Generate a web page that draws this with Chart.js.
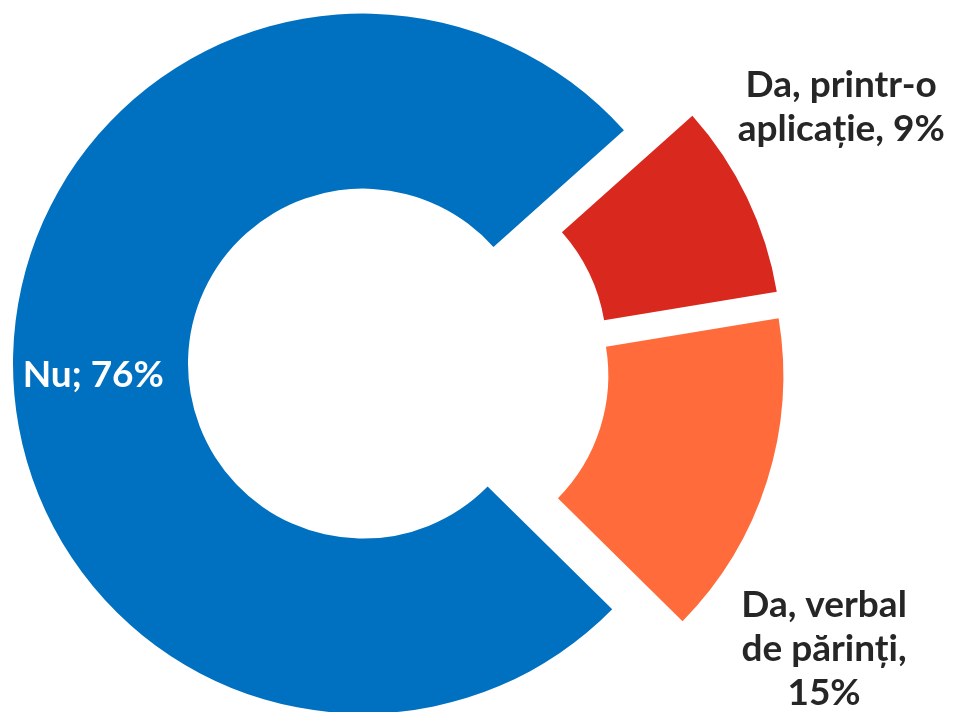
<!DOCTYPE html>
<html>
<head>
<meta charset="utf-8">
<script src="https://cdn.jsdelivr.net/npm/chart.js@4.4.1/dist/chart.umd.min.js"></script>
<style>
  html, body { margin: 0; padding: 0; background: #fff; overflow: hidden; }
  #wrap { position: relative; width: 954px; height: 729px; }
</style>
</head>
<body>
<div id="wrap"><canvas id="pieChart"></canvas></div>
<script>
var categories = ["Da, printr-o aplicație", "Da, verbal de părinți", "Nu"];
var values = [9, 15, 76];
var separators = [", ", ", ", "; "];
var sliceColors = ["#D9291E", "#FF6B3A", "#0070C0"];

// pull every slice away from the centre, like an exploded pie
var explodePlugin = {
    id: 'explode',
    afterDatasetsUpdate: function(chart, args, opts) {
        chart.getDatasetMeta(0).data.forEach(function(arc) {
            var mid = (arc.startAngle + arc.endAngle) / 2;
            arc.x += Math.cos(mid) * opts.distance;
            arc.y += Math.sin(mid) * opts.distance;
        });
    }
};

function wrapText(ctx, text, maxWidth) {
    if (!maxWidth) return [text];
    var words = text.split(' ');
    var lines = [];
    var line = '';
    words.forEach(function(w) {
        var test = line ? line + ' ' + w : w;
        if (line && ctx.measureText(test).width > maxWidth) {
            lines.push(line);
            line = w;
        } else {
            line = test;
        }
    });
    lines.push(line);
    return lines;
}

var labelPlugin = {
    id: 'sliceLabels',
    afterDatasetsDraw: function(chart, args, opts) {
        var ctx = chart.ctx;
        ctx.save();
        ctx.font = opts.font;
        ctx.textAlign = 'center';
        ctx.textBaseline = 'middle';
        chart.getDatasetMeta(0).data.forEach(function(arc, i) {
            var place = opts.placement[i];
            var a = place.angle * Math.PI / 180;
            var x = arc.x + Math.cos(a) * place.r;
            var y = arc.y + Math.sin(a) * place.r;
            var text = categories[i] + separators[i] + values[i] + '%';
            var lines = wrapText(ctx, text, place.width);
            ctx.fillStyle = place.color;
            var top = y - (lines.length - 1) * opts.lineHeight / 2;
            lines.forEach(function(l, k) {
                ctx.fillText(l, x, top + k * opts.lineHeight);
            });
        });
        ctx.restore();
    }
};

var config = {
    type: 'doughnut',
    data: {
        labels: categories,
        datasets: [{
            data: values,
            backgroundColor: sliceColors,
            borderWidth: 0
        }]
    },
    options: {
        responsive: true,
        maintainAspectRatio: false,
        animation: false,
        events: [],
        rotation: 48.2,
        cutout: '50%',
        radius: 350,
        layout: {
            padding: { left: 0, right: 156, top: 0, bottom: 0 }
        },
        plugins: {
            legend: { display: false },
            tooltip: { enabled: false },
            explode: { distance: 36 },
            sliceLabels: {
                font: 'bold 37px Lato',
                lineHeight: 44,
                placement: [
                    { angle: -30.6, r: 476, width: 220, color: '#262626' },
                    { angle: 35, r: 477, width: 190, color: '#262626' },
                    { angle: 177.5, r: 270, width: 0, color: '#ffffff' }
                ]
            }
        }
    },
    plugins: [explodePlugin, labelPlugin]
};

var ctx = document.getElementById("pieChart");
window.pieChart = new Chart(ctx, config);
</script>
</body>
</html>
